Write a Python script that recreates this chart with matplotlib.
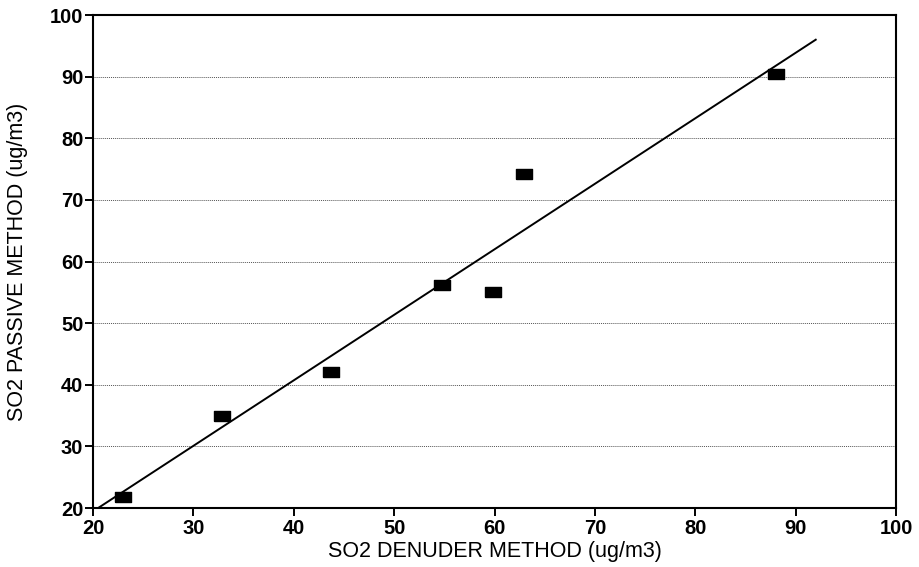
import numpy as np
import matplotlib
matplotlib.use("Agg")
import matplotlib.pyplot as plt

plt.rcParams['font.family'] = ['Liberation Sans', 'DejaVu Sans']

# measured pairs (ug/m3)
denuder = [23.0, 32.9, 43.7, 54.8, 59.8, 62.9, 88.0]
passive = [21.8, 34.9, 42.0, 56.2, 55.0, 74.2, 90.4]

# regression line drawn on the chart
fit_slope = 1.063
fit_icpt = -1.8
fit_x = [20.6, 92.0]

xticks = [20, 30, 40, 50, 60, 70, 80, 90, 100]
yticks = [20, 30, 40, 50, 60, 70, 80, 90, 100]

fig = plt.figure(figsize=(9.19, 5.67), dpi=100)
ax = fig.add_axes([0.1012, 0.104, 0.8738, 0.8695])

for y in yticks[1:-1]:
    ax.axhline(y, color='#555555', lw=0.7, ls=(0, (1, 1)), zorder=1)

fx = np.array(fit_x)
ax.plot(fx, fit_slope * fx + fit_icpt, color='black', lw=1.4, zorder=2)

rect = [(-1, -0.65), (1, -0.65), (1, 0.65), (-1, 0.65), (-1, -0.65)]
ax.plot(denuder, passive, ls='none', marker=rect, markersize=11,
        color='black', zorder=3)

ax.set_xlim(20, 100)
ax.set_ylim(20, 100)
ax.set_xticks(xticks)
ax.set_yticks(yticks)
ax.tick_params(direction='out', length=6, width=1.4, labelsize=14.5)
ax.tick_params(axis='x', pad=2)
ax.tick_params(axis='y', pad=1)
for lab in ax.get_xticklabels() + ax.get_yticklabels():
    lab.set_fontweight('bold')
for s in ax.spines.values():
    s.set_linewidth(1.5)

ax.set_xlabel('SO2 DENUDER METHOD (ug/m3)', fontsize=15.5)
ax.set_ylabel('SO2 PASSIVE METHOD (ug/m3)', fontsize=15.5)
ax.xaxis.set_label_coords(0.5, -0.066)
ax.yaxis.set_label_coords(-0.081, 0.5)

fig.savefig('out.png', dpi=100)
